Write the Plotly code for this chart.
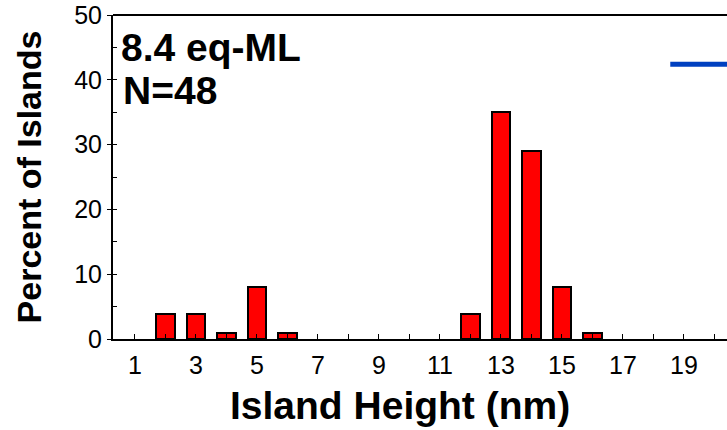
import plotly.graph_objects as go

# Data
heights = [2, 3, 4, 5, 6, 12, 13, 14, 15, 16]
percent = [3.9, 3.9, 0.9, 8.1, 0.9, 3.9, 35.1, 29.0, 8.1, 0.9]
blue_x = [18.55, 21.0]
blue_y = [42.4, 42.4]
x_tick_vals = [1, 3, 5, 7, 9, 11, 13, 15, 17, 19]
y_tick_vals = [0, 10, 20, 30, 40, 50]
label_main = "8.4 eq-ML"
label_n = "N=48"

FONT = "Liberation Sans, Arial, Helvetica, sans-serif"

fig = go.Figure()
fig.add_trace(go.Bar(
    x=heights, y=percent, width=0.62,
    marker=dict(color="#FF0000", line=dict(color="black", width=2)),
    showlegend=False,
))
fig.add_trace(go.Scatter(
    x=blue_x, y=blue_y, mode="lines",
    line=dict(color="rgb(0,64,192)", width=5),
    showlegend=False,
))

fig.update_layout(
    width=727, height=430,
    margin=dict(l=113, r=0, t=15, b=91),
    paper_bgcolor="white", plot_bgcolor="white",
    font=dict(family=FONT, color="black"),
    bargap=0,
)
fig.update_xaxes(
    range=[0.279, 20.41],
    tickmode="array", tickvals=x_tick_vals,
    ticks="inside", ticklen=5, tickwidth=1, tickcolor="black",
    minor=dict(ticks="inside", dtick=1, tick0=0, ticklen=5, tickwidth=1, tickcolor="black"),
    showline=True, linecolor="black", linewidth=2,
    showgrid=False, zeroline=False,
    tickfont=dict(size=25, family=FONT, color="black"),
    ticklabelstandoff=3,
)
fig.update_yaxes(
    range=[0, 50],
    tickmode="array", tickvals=y_tick_vals,
    ticks="outside", ticklen=4, tickwidth=1, tickcolor="black",
    minor=dict(ticks="inside", dtick=5, tick0=0, ticklen=4, tickwidth=1, tickcolor="black"),
    showline=True, linecolor="black", linewidth=2,
    showgrid=False, zeroline=False,
    tickfont=dict(size=25, family=FONT, color="black"),
    title=dict(text="Percent of Islands", font=dict(size=34, family=FONT, weight="bold", color="black"), standoff=22),
)
# top border of the frame
fig.add_shape(type="line", xref="paper", yref="paper", x0=0, x1=1, y0=1, y1=1,
              line=dict(color="black", width=2))

fig.add_annotation(text="Island Height (nm)", xref="paper", yref="paper",
                   x=(400 - 113) / 614, y=(339 - 405) / 324, xanchor="center", yanchor="middle",
                   showarrow=False, font=dict(size=39, family=FONT, weight="bold", color="black"))
fig.add_annotation(text=label_main, xref="paper", yref="paper",
                   x=(119 - 113) / 614, y=(339 - 47) / 324, xanchor="left", yanchor="middle",
                   showarrow=False, font=dict(size=39, family=FONT, weight="bold", color="black"))
fig.add_annotation(text=label_n, xref="paper", yref="paper",
                   x=(121 - 113) / 614, y=(339 - 90) / 324, xanchor="left", yanchor="middle",
                   showarrow=False, font=dict(size=39, family=FONT, weight="bold", color="black"))

fig.write_html("out.html", config={"displayModeBar": False},
               post_script="document.body.style.margin='0';document.body.style.overflow='hidden';")
